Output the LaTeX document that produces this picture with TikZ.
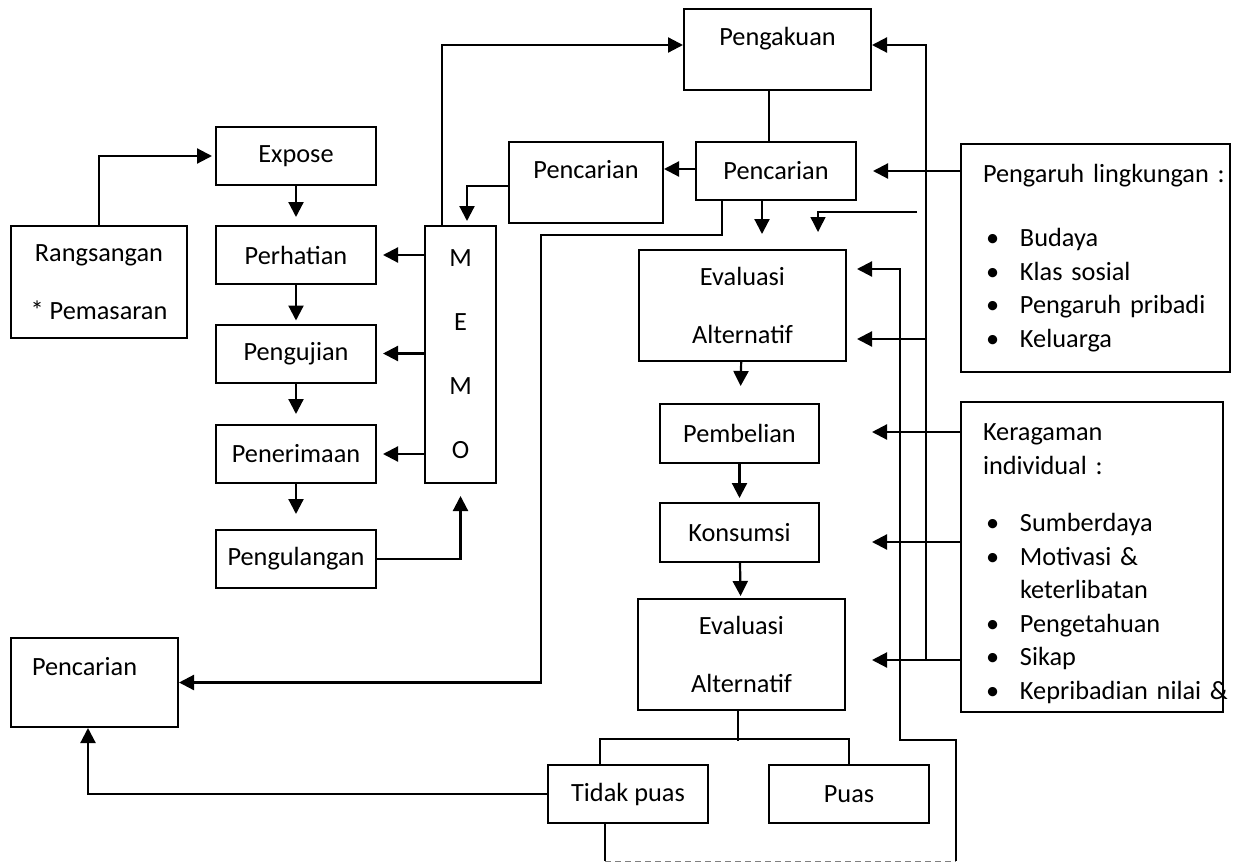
\documentclass[tikz,border=0pt]{standalone}
\usepackage{fontspec}
\setmainfont{Carlito}
\usetikzlibrary{arrows.meta}
\newcommand{\bitem}[1]{\mbox{\hspace*{3pt}\makebox[34pt][l]{\textbullet}#1}}

\begin{document}
\begin{tikzpicture}[x=1pt,y=-1pt,every node/.style={font=\fontsize{26.3}{33.5}\selectfont,align=center},box/.style={draw,line width=2pt,inner sep=0pt},stage/.style={box,minimum width=160pt,minimum height=58pt},listbox/.style={draw,line width=2pt,align=left,inner xsep=22pt,inner ysep=0pt},arrow/.style={-{Triangle[length=15pt,width=15pt]},line width=2.2pt},link/.style={line width=1.5pt}]
\useasboundingbox (0,0) rectangle (1238,862);
\node[box,minimum width=176pt,minimum height=112pt] (rang) at (99,282) {Rangsangan\\[24.5pt]* Pemasaran};
\node[stage] (expose) at (296,156) {Expose};
\node[stage] (perh) at (296,255) {Perhatian};
\node[stage] (uji) at (296,353.5) {Pengujian};
\node[stage] (terima) at (296,454) {Penerimaan};
\node[stage] (ulang) at (296,559) {Pengulangan};
\node[box,minimum width=71pt,minimum height=257pt,font=\fontsize{26.3}{64}\selectfont] (memo) at (460.5,354.5) {M\\E\\M\\O};
\node[box,minimum width=187pt,minimum height=81pt] (akuan) at (777.5,49.5) {Pengakuan\\[-8pt]\mbox{}};
\node[box,minimum width=154pt,minimum height=81pt] (cariL) at (586,182.5) {Pencarian\\[-8pt]\mbox{}};
\node[stage] (cariR) at (776,171) {Pencarian};
\node[box,minimum width=207pt,minimum height=111pt] (evalA) at (742.5,305.5) {Evaluasi\\[25pt]Alternatif};
\node[box,minimum width=159pt,minimum height=59pt] (beli) at (739.5,433.5) {Pembelian};
\node[box,minimum width=159pt,minimum height=59pt] (kons) at (739.5,532.5) {Konsumsi};
\node[box,minimum width=207pt,minimum height=111pt] (evalB) at (741.5,654.5) {Evaluasi\\[25pt]Alternatif};
\node[stage] (tidak) at (628,794) {Tidak puas};
\node[stage] (puas) at (849,794) {Puas};
\node[box,align=left,text width=125pt,inner xsep=21pt,minimum height=89pt] (cariB) at (94.5,682.5) {Pencarian\\[-2pt]\mbox{}};
\node[listbox,text width=225pt,minimum height=228pt] (ling) at (1095.5,258) {\mbox{Pengaruh lingkungan :}\\[31pt]\bitem{Budaya}\\\bitem{Klas sosial}\\\bitem{Pengaruh pribadi}\\\bitem{Keluarga}};
\node[listbox,text width=218pt,minimum height=310pt] (ragam) at (1092,557) {\mbox{}\\[-3.5pt]Keragaman\\individual :\\[24pt]\bitem{Sumberdaya}\\\bitem{Motivasi \&}\\\mbox{\hspace*{37pt}keterlibatan}\\\bitem{Pengetahuan}\\\bitem{Sikap}\\\bitem{Kepribadian nilai \&}};
\coordinate (lnfree) at (917,212);
\coordinate (tipbeli) at (872,432);
\coordinate (tipkons) at (872,542);
\coordinate (tipevalB) at (872,660);
\coordinate (busfoot) at (926,660);
\coordinate (busmid) at (926,339);
\draw[arrow] (rang.north) |- ([xshift=-3pt]expose.west);
\draw[arrow,shorten >=8pt] (expose)--(perh);\draw[arrow,shorten >=3pt] (perh)--(uji);\draw[arrow,shorten >=10pt] (uji)--(terima);\draw[arrow,shorten >=15pt] (terima)--(ulang);
\draw[arrow,shorten >=6pt] (memo.west |- perh)--(perh.east);\draw[arrow,shorten >=6pt] (memo.west |- uji)--(uji.east);\draw[arrow,shorten >=6pt] (memo.west |- terima)--(terima.east);
\draw[arrow,shorten >=12pt] (ulang.east) -| (memo.south);
\draw[arrow] ([xshift=-18.5pt]memo.north) |- ([yshift=4.5pt]akuan.west);
\draw[arrow,shorten >=4pt] ([yshift=-3.5pt]cariL.west) -| ([xshift=6.5pt]memo.north);
\draw[arrow] ([yshift=2pt]cariR.west) -- ([yshift=2pt]cariR.west -| cariL.east);
\draw[link] ([xshift=-8.5pt]akuan.south) -- ([xshift=-7pt]cariR.north);
\draw[arrow] ([xshift=-14pt]cariR.south) -- ++(0,33);
\draw[arrow,link,shorten >=17pt] (lnfree) -| ([xshift=75.5pt]evalA.north);
\draw[arrow] ([xshift=-54pt]cariR.south) |- (541,235) |- (cariB.east);
\draw[arrow,shorten >=17pt] (evalA)--(beli);\draw[arrow,shorten >=4pt] (beli)--(kons);\draw[arrow,shorten >=2pt] (kons)--(evalB);
\draw[link] ([xshift=-3.5pt]evalB.south) -- ++(0,30);
\draw[link] ([xshift=-28pt]tidak.north) -- ++(0,-25) -| (puas.north);
\draw[arrow] (tidak.west) -| ([xshift=-6.5pt]cariB.south);
\draw[link] ([xshift=-23pt]tidak.south) -- ++(0,37) coordinate (loopa);
\draw[gray,line width=1pt,dash pattern=on 6pt off 4pt] (loopa) -- ++(351,0) coordinate (loopb);
\draw[arrow,shorten >=10pt] (loopb) |- (900,740) |- ([yshift=36.5pt]evalA.east);
\draw[arrow] (busfoot) |- ([yshift=4.5pt]akuan.east);
\draw[arrow,shorten >=10pt] (busmid) -- (busmid -| evalA.east);
\draw[arrow,shorten >=16pt] (ling.west |- cariR) -- (cariR.east);
\draw[arrow] (ragam.west |- tipbeli) -- (tipbeli);\draw[arrow] (ragam.west |- tipkons) -- (tipkons);\draw[arrow] (ragam.west |- tipevalB) -- (tipevalB);
\end{tikzpicture}
\end{document}
